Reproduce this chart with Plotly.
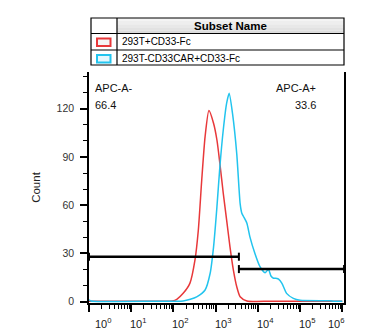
import plotly.graph_objects as go

# ---------------- data ----------------
series_names = ["293T+CD33-Fc", "293T-CD33CAR+CD33-Fc"]

red_x = [1, 50, 95, 120, 170, 245, 324, 389, 468, 562, 692, 891, 1072, 1259,
         1514, 1820, 2188, 2630, 3162, 3802, 5495, 20000, 1000000]
red_y = [0.3, 0.3, 0.5, 1.5, 5.2, 11.4, 26, 44.6, 75.7, 102.7, 118.9, 111, 100.6, 86,
         67.5, 50.8, 34, 19.7, 9.3, 3.1, 0.5, 0.3, 0.3]

cyan_x = [1, 1.12, 31.6, 170, 251, 355, 562, 741, 891, 1072, 1259, 1514, 1820, 2089,
          2512, 3162, 3802, 4169, 4571, 5495, 6457, 8511, 11220, 14791, 17783, 20417,
          23442, 28184, 30903, 37154, 47863, 69183, 100000, 501187, 630957, 1000000]
cyan_y = [1.2, 0.5, 0.3, 0.5, 1.5, 3, 7.3, 17.7, 34, 59, 84, 106.8, 123.5, 129.7,
          117, 92, 61, 55, 53, 48.8, 40.5, 30, 21.8, 18, 20.2, 16,
          14.6, 14.5, 14, 11.4, 5.2, 2.1, 0.9, 0.6, 0.3, 0.3]

gate_names = ["APC-A-", "APC-A+"]
gate_pct = ["66.4", "33.6"]
gate_lo = [1, 3550]
gate_hi = [3550, 1100000]
gate_level = [28, 20.3]

x_tick_exp = [0, 1, 2, 3, 4, 5, 6]
y_tick_vals = [0, 30, 60, 90, 120]

# ---------------- layout helpers ----------------
W, H = 365, 334
L, R, T, B = 89, 344, 72, 303
FONT = "Liberation Sans, Arial, sans-serif"


def px(x):
    return (x - L) / (R - L)


def py(y):
    return (B - y) / (B - T)


RED = "#e8383a"
CYAN = "#22c4ee"

fig = go.Figure()
fig.add_trace(go.Scatter(x=red_x, y=red_y, mode="lines", name=series_names[0],
                         line=dict(color=RED, width=1.5, shape="spline", smoothing=0.6),
                         showlegend=False))
fig.add_trace(go.Scatter(x=cyan_x, y=cyan_y, mode="lines", name=series_names[1],
                         line=dict(color=CYAN, width=1.5, shape="spline", smoothing=0.6),
                         showlegend=False))

cap = 2.5
for i in range(len(gate_names)):
    fig.add_trace(go.Scatter(x=[gate_lo[i], gate_hi[i]], y=[gate_level[i]] * 2,
                             mode="lines", line=dict(color="black", width=2.5),
                             showlegend=False, hoverinfo="skip"))
    fig.add_trace(go.Scatter(x=[gate_lo[i], gate_lo[i], None, gate_hi[i], gate_hi[i]],
                             y=[gate_level[i] - cap, gate_level[i] + cap, None,
                                gate_level[i] - cap, gate_level[i] + cap],
                             mode="lines", line=dict(color="black", width=2),
                             showlegend=False, hoverinfo="skip"))

lab_font = dict(family=FONT, size=11, color="#111")
annotations = []
annotations += [
    dict(x=px(93), y=py(88), xref="paper", yref="paper", text=gate_names[0],
         xanchor="left", yanchor="middle", showarrow=False, font=lab_font),
    dict(x=px(93), y=py(105), xref="paper", yref="paper", text=gate_pct[0],
         xanchor="left", yanchor="middle", showarrow=False, font=lab_font),
    dict(x=px(318), y=py(88), xref="paper", yref="paper", text=gate_names[1],
         xanchor="right", yanchor="middle", showarrow=False, font=lab_font),
    dict(x=px(318), y=py(105), xref="paper", yref="paper", text=gate_pct[1],
         xanchor="right", yanchor="middle", showarrow=False, font=lab_font),
]
# x tick labels (10^n), placed on the log axis
x_shift = {0: 4, 6: -16}
for e in x_tick_exp:
    annotations.append(dict(x=e, y=py(323), xref="x", yref="paper",
                            text="10<sup>%d</sup>" % e, xanchor="left", yanchor="middle",
                            xshift=x_shift.get(e, -3), showarrow=False,
                            font=dict(family=FONT, size=11, color="#222")))

# legend table
shapes = []
grad = ["#f4f4f4", "#eeeeee", "#e8e8e8", "#e2e2e2", "#dcdcdc"]
hy0, hy1 = 18, 33.5
step = (hy1 - hy0) / len(grad)
for k, c in enumerate(grad):
    shapes.append(dict(type="rect", xref="paper", yref="paper",
                       x0=px(117), x1=px(344), y0=py(hy0 + k * step), y1=py(hy0 + (k + 1) * step),
                       fillcolor=c, line=dict(width=0), layer="below"))
shapes.append(dict(type="rect", xref="paper", yref="paper", x0=px(91), x1=px(344),
                   y0=py(18), y1=py(65), line=dict(color="black", width=1.2)))
for yy in [33.5, 50]:
    shapes.append(dict(type="line", xref="paper", yref="paper", x0=px(91), x1=px(344),
                       y0=py(yy), y1=py(yy), line=dict(color="black", width=1.2)))
shapes.append(dict(type="line", xref="paper", yref="paper", x0=px(117), x1=px(117),
                   y0=py(18), y1=py(65), line=dict(color="black", width=1.2)))
shapes.append(dict(type="rect", xref="paper", yref="paper", x0=px(97), x1=px(110.5),
                   y0=py(38.5), y1=py(46), fillcolor="#f4f4f4", line=dict(color=RED, width=2)))
shapes.append(dict(type="rect", xref="paper", yref="paper", x0=px(97), x1=px(110.5),
                   y0=py(55), y1=py(62.5), fillcolor="#e4f7fd", line=dict(color=CYAN, width=2)))

annotations += [
    dict(x=px(230), y=py(26), xref="paper", yref="paper", text="<b>Subset Name</b>",
         xanchor="center", yanchor="middle", showarrow=False,
         font=dict(family=FONT, size=11.5, color="black")),
    dict(x=px(120), y=py(42), xref="paper", yref="paper", text=series_names[0],
         xanchor="left", yanchor="middle", showarrow=False,
         font=dict(family=FONT, size=10, color="black")),
    dict(x=px(120), y=py(58), xref="paper", yref="paper", text=series_names[1],
         xanchor="left", yanchor="middle", showarrow=False,
         font=dict(family=FONT, size=10, color="black")),
]

fig.update_layout(
    width=W, height=H,
    margin=dict(l=L, r=W - R, t=T, b=H - B, pad=0),
    paper_bgcolor="white", plot_bgcolor="white",
    font=dict(family=FONT, size=11, color="#111"),
    annotations=annotations, shapes=shapes,
    xaxis=dict(type="log", range=[0, 6.04], showgrid=False, zeroline=False,
               showline=True, linecolor="black", linewidth=2, mirror=False,
               tickvals=[10 ** e for e in x_tick_exp], ticks="outside", ticklen=7,
               tickwidth=2, tickcolor="black", showticklabels=False, automargin=False,
               minor=dict(ticks="outside", ticklen=4, tickwidth=1, tickcolor="black",
                          dtick="D1", showgrid=False)),
    yaxis=dict(range=[-0.8, 142.9], showgrid=False, zeroline=False,
               showline=True, linecolor="black", linewidth=1.5, mirror=True,
               tickvals=y_tick_vals, ticks="outside", ticklen=7, tickwidth=1.5,
               tickcolor="black", tickfont=dict(family=FONT, size=10.5, color="#333"),
               ticklabelstandoff=4, automargin=False,
               minor=dict(ticks="outside", ticklen=4, tickwidth=1, tickcolor="black",
                          dtick=10, tick0=0, showgrid=False),
               title=dict(text="Count", font=dict(family=FONT, size=11.5, color="#222"),
                          standoff=14)),
)

fig.write_html("out.html")
